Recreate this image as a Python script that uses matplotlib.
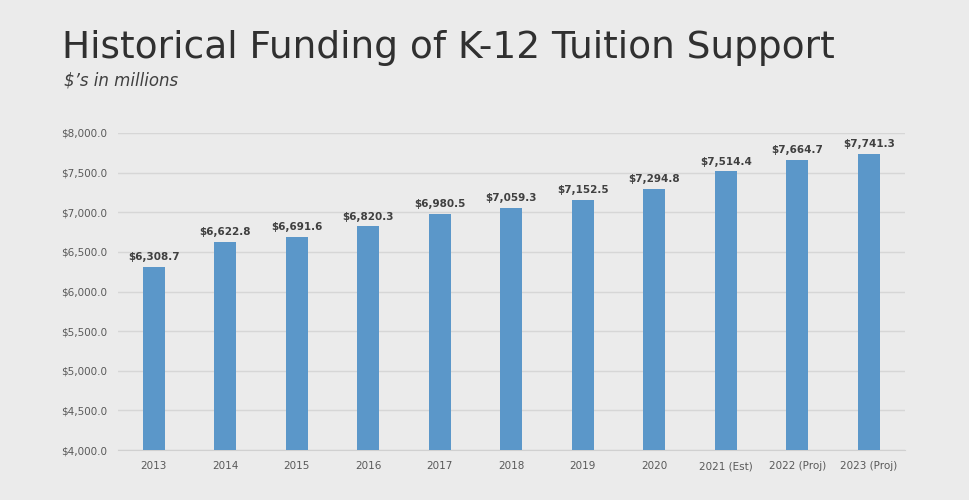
import matplotlib.pyplot as plt
import numpy as np

years = ['2013', '2014', '2015', '2016', '2017', '2018', '2019', '2020',
         '2021 (Est)', '2022 (Proj)', '2023 (Proj)']
funding = [6308.7, 6622.8, 6691.6, 6820.3, 6980.5, 7059.3, 7152.5, 7294.8,
           7514.4, 7664.7, 7741.3]
yticks = np.arange(4000, 8001, 500)

bg = '#ebebeb'
fig = plt.figure(figsize=(9.7, 5), dpi=100, facecolor=bg)
ax = fig.add_axes([0.1216, 0.1, 0.811, 0.634], facecolor=bg)

x = np.arange(len(years))
ax.bar(x, funding, width=0.31, color='#5b97c9', zorder=3)
for xi, v in zip(x, funding):
    ax.text(xi, v + 60, f'${v:,.1f}', ha='center', va='bottom',
            fontsize=7.5, fontweight='bold', color='#404040')

ax.set_xlim(-0.5, len(years) - 0.5)
ax.set_ylim(4000, 8000)
ax.set_yticks(yticks)
ax.set_yticklabels([f'${v:,.1f}' for v in yticks], fontsize=7.5, color='#595959')
ax.set_xticks(x)
ax.set_xticklabels(years, fontsize=7.5, color='#595959')
ax.tick_params(length=0, pad=8)
ax.grid(axis='y', color='#d6d6d6', linewidth=1, zorder=0)
for s in ['top', 'right', 'left']:
    ax.spines[s].set_visible(False)
ax.spines['bottom'].set_color('#d0d0d0')

fig.text(0.064, 0.905, 'Historical Funding of K-12 Tuition Support',
         fontsize=27, color='#303030', va='center')
fig.text(0.066, 0.838, "$’s in millions", fontsize=12, style='italic',
         color='#404040', va='center')

fig.savefig('out.png', dpi=100, facecolor=bg)
